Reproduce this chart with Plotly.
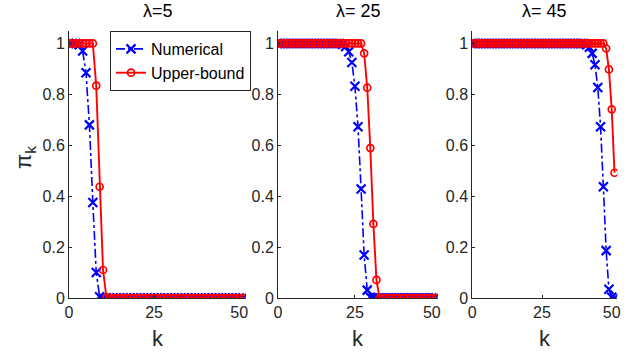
import plotly.graph_objects as go

# ---------------- data ----------------
k = list(range(0, 52))

titles = ["λ=5", "λ= 25", "λ= 45"]

num_l5 = [1, 1, 1, 0.995, 0.97, 0.885, 0.68, 0.375, 0.10, 0.005,
          0, 0, 0, 0, 0, 0, 0, 0, 0, 0,
          0, 0, 0, 0, 0, 0, 0, 0, 0, 0,
          0, 0, 0, 0, 0, 0, 0, 0, 0, 0,
          0, 0, 0, 0, 0, 0, 0, 0, 0, 0,
          0, 0]
ub_l5 = [1, 1, 1, 1, 1, 1, 1, 1, 0.834, 0.437,
         0.11, 0.003, 0, 0, 0, 0, 0, 0, 0, 0,
         0, 0, 0, 0, 0, 0, 0, 0, 0, 0,
         0, 0, 0, 0, 0, 0, 0, 0, 0, 0,
         0, 0, 0, 0, 0, 0, 0, 0, 0, 0,
         0, 0]

num_l25 = [1, 1, 1, 1, 1, 1, 1, 1, 1, 1,
           1, 1, 1, 1, 1, 1, 1, 1, 1, 1,
           1, 0.997, 0.988, 0.967, 0.925, 0.832, 0.673, 0.428, 0.169, 0.031,
           0.003, 0, 0, 0, 0, 0, 0, 0, 0, 0,
           0, 0, 0, 0, 0, 0, 0, 0, 0, 0,
           0, 0]
ub_l25 = [1, 1, 1, 1, 1, 1, 1, 1, 1, 1,
          1, 1, 1, 1, 1, 1, 1, 1, 1, 1,
          1, 1, 1, 1, 1, 1, 1, 1, 0.961, 0.826,
          0.589, 0.291, 0.071, 0, 0, 0, 0, 0, 0, 0,
          0, 0, 0, 0, 0, 0, 0, 0, 0, 0,
          0, 0]

num_l45 = [1, 1, 1, 1, 1, 1, 1, 1, 1, 1,
           1, 1, 1, 1, 1, 1, 1, 1, 1, 1,
           1, 1, 1, 1, 1, 1, 1, 1, 1, 1,
           1, 1, 1, 1, 1, 1, 1, 1, 1, 1,
           1, 0.995, 0.985, 0.961, 0.916, 0.827, 0.673, 0.437, 0.186, 0.034,
           0.003, 0]
ub_l45 = [1, 1, 1, 1, 1, 1, 1, 1, 1, 1,
          1, 1, 1, 1, 1, 1, 1, 1, 1, 1,
          1, 1, 1, 1, 1, 1, 1, 1, 1, 1,
          1, 1, 1, 1, 1, 1, 1, 1, 1, 1,
          1, 1, 1, 1, 1, 1, 1, 1, 0.98, 0.898,
          0.741, 0.492]

numerical = [num_l5, num_l25, num_l45]
upper = [ub_l5, ub_l25, ub_l45]

x_ticks = [0, 25, 50]
y_ticks = [0, 0.2, 0.4, 0.6, 0.8, 1]
y_ticklabels = ["0", "0.2", "0.4", "0.6", "0.8", "1"]

# ---------------- layout ----------------
W, H = 637, 354
FONT = "Liberation Sans, Arial, Helvetica, sans-serif"
AX = "#262626"


def fx(xp):
    return xp / W


def fy(yp):
    return 1 - yp / H


x_doms = [(fx(69), fx(246)), (fx(278), fx(438)), (fx(472.3), fx(617.3))]
y_dom = (fy(298), fy(30.7))

fig = go.Figure()

for i in range(3):
    xa = "x" if i == 0 else f"x{i+1}"
    ya = "y" if i == 0 else f"y{i+1}"
    fig.add_trace(go.Scatter(
        x=k, y=numerical[i], xaxis=xa, yaxis=ya,
        mode="lines+markers", name="Numerical", showlegend=(i == 0),
        line=dict(color="#0000FF", width=1.6, dash="dashdot"),
        marker=dict(symbol="x-thin-open", size=9,
                    line=dict(color="#0000FF", width=2.2), color="#0000FF"),
    ))
    fig.add_trace(go.Scatter(
        x=k, y=upper[i], xaxis=xa, yaxis=ya,
        mode="lines+markers", name="Upper-bound", showlegend=(i == 0),
        line=dict(color="#FF0000", width=1.9),
        marker=dict(symbol="circle-open", size=7,
                    line=dict(color="#FF0000", width=1.7), color="#FF0000"),
    ))

layout = dict(
    width=W, height=H,
    margin=dict(l=0, r=0, t=0, b=0, autoexpand=False),
    paper_bgcolor="white", plot_bgcolor="white",
    font=dict(family=FONT, color=AX, size=16),
    showlegend=True,
    legend=dict(x=fx(110), y=fy(31), xanchor="left", yanchor="top",
                bgcolor="white", bordercolor=AX, borderwidth=1,
                font=dict(size=16, color="black"), tracegroupgap=0,
                itemwidth=30),
)

annotations = []
for i in range(3):
    xkey = "xaxis" if i == 0 else f"xaxis{i+1}"
    ykey = "yaxis" if i == 0 else f"yaxis{i+1}"
    xa = "x" if i == 0 else f"x{i+1}"
    ya = "y" if i == 0 else f"y{i+1}"
    layout[xkey] = dict(
        domain=list(x_doms[i]), anchor=ya, range=[0, 52],
        tickvals=x_ticks, ticktext=[str(t) for t in x_ticks],
        ticks="inside", ticklen=3, tickcolor=AX,
        showline=True, linecolor=AX, linewidth=1,
        showgrid=False, zeroline=False, automargin=False,
        tickfont=dict(size=16, color=AX),
    )
    layout[ykey] = dict(
        domain=list(y_dom), anchor=xa, range=[0, 1.05],
        tickvals=y_ticks, ticktext=y_ticklabels,
        ticks="inside", ticklen=3, tickcolor=AX,
        showline=True, linecolor=AX, linewidth=1,
        showgrid=False, zeroline=False, automargin=False,
        tickfont=dict(size=16, color=AX),
    )
    xc = (x_doms[i][0] + x_doms[i][1]) / 2
    annotations.append(dict(
        text=titles[i], xref="paper", yref="paper",
        x=xc, y=fy(11),
        xanchor="center", yanchor="middle", showarrow=False,
        font=dict(size=18, color="black", family=FONT),
    ))
    annotations.append(dict(
        text="k", xref="paper", yref="paper",
        x=xc, y=fy(338),
        xanchor="center", yanchor="middle", showarrow=False,
        font=dict(size=22, color=AX, family=FONT),
    ))

annotations.append(dict(
    text="π<sub>k</sub>", xref="paper", yref="paper",
    x=fx(25), y=fy(158), textangle=-90,
    xanchor="center", yanchor="middle", showarrow=False,
    font=dict(size=22, color=AX, family=FONT),
))

layout["annotations"] = annotations
fig.update_layout(**layout)

# remove the browser's default 8px body margin so the figure sits at (0, 0)
fig.write_html("out.html", config={"displayModeBar": False},
               post_script="document.body.style.margin='0';")
